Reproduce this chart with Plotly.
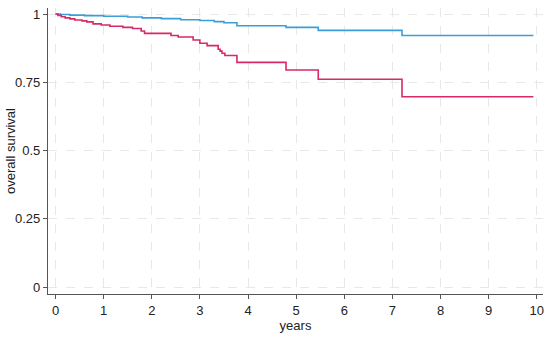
import plotly.graph_objects as go

# Kaplan-Meier step data
blue_t = [0, 0.1, 0.3, 0.6, 1.0, 1.5, 1.8, 2.2, 2.6, 3.0, 3.3, 3.5, 3.77, 4.79, 5.46, 7.2, 9.93]
blue_s = [1.0, 0.998, 0.996, 0.994, 0.992, 0.989, 0.986, 0.983, 0.979, 0.976, 0.972, 0.968, 0.957, 0.951, 0.940, 0.921, 0.921]

red_t = [0, 0.05, 0.12, 0.2, 0.3, 0.4, 0.55, 0.65, 0.78, 0.95, 1.13, 1.4, 1.6, 1.78, 1.85, 2.4, 2.55,
         2.86, 3.0, 3.15, 3.38, 3.42, 3.46, 3.52, 3.77, 4.79, 5.46, 7.2, 9.93]
red_s = [1.0, 0.995, 0.99, 0.986, 0.982, 0.978, 0.975, 0.971, 0.964, 0.96, 0.955, 0.951, 0.947, 0.938, 0.929, 0.921, 0.916,
         0.905, 0.893, 0.884, 0.871, 0.864, 0.856, 0.848, 0.823, 0.795, 0.761, 0.697, 0.697]

x_ticks = [0, 1, 2, 3, 4, 5, 6, 7, 8, 9, 10]
y_ticks = [0, 0.25, 0.5, 0.75, 1]
y_labels = ["0", "0.25", "0.5", "0.75", "1"]

fig = go.Figure()
fig.add_trace(go.Scatter(x=blue_t, y=blue_s, mode="lines", line=dict(color="#3a9ed8", width=1.6, shape="hv"),
                         showlegend=False, hoverinfo="skip", cliponaxis=False))
fig.add_trace(go.Scatter(x=red_t, y=red_s, mode="lines", line=dict(color="#d8286a", width=1.6, shape="hv"),
                         showlegend=False, hoverinfo="skip", cliponaxis=False))

font = dict(family="Liberation Sans, Arial, sans-serif", size=13, color="#222")
W, H = 550, 337
L, R, T, B = 48, 7, 8, 43
fig.update_layout(
    width=W, height=H,
    margin=dict(l=L, r=R, t=T, b=B),
    paper_bgcolor="white", plot_bgcolor="white",
    font=font,
    xaxis=dict(range=[-0.156, 10.13], tickvals=x_ticks, ticks="outside", ticklen=4, tickcolor="#555",
               showline=True, linecolor="#555", linewidth=1.2, automargin=False, ticklabeloverflow="allow",
               showgrid=True, gridcolor="#e8e8e8", griddash="dash", gridwidth=1, zeroline=False,
               title=dict(text="years", standoff=4, font=font), tickfont=font),
    yaxis=dict(range=[-0.0256, 1.022], tickvals=y_ticks, ticktext=y_labels, ticks="outside", ticklen=4, tickcolor="#555",
               showline=True, linecolor="#555", linewidth=1.2, automargin=False, ticklabeloverflow="allow",
               showgrid=True, gridcolor="#e8e8e8", griddash="dash", gridwidth=1, zeroline=False,
               tickfont=font),
    annotations=[dict(text="overall survival", textangle=-90, xref="paper", yref="paper",
                      x=(10 - L) / (W - L - R), y=0.5, xanchor="center", yanchor="middle",
                      showarrow=False, font=font)],
)
fig.write_html("out.html", config={"displayModeBar": False},
               post_script="document.body.style.margin='0';document.body.style.overflow='hidden';")
